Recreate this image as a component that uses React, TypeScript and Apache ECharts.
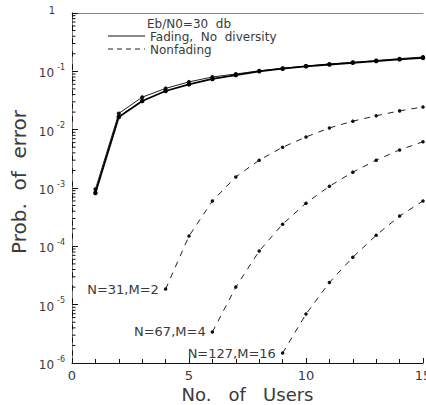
import React, { useEffect, useRef } from "react";
import * as echarts from "echarts";

const users = [1, 2, 3, 4, 5, 6, 7, 8, 9, 10, 11, 12, 13, 14, 15];
const fadingUpper = [9.5e-4, 0.019, 0.036, 0.051, 0.066, 0.08, 0.09, 0.102, 0.113, 0.123, 0.133, 0.143, 0.153, 0.165, 0.176];
const fadingLower = [8.2e-4, 0.0165, 0.031, 0.046, 0.06, 0.074, 0.086, 0.1, 0.111, 0.122, 0.131, 0.14, 0.15, 0.16, 0.17];

const nf31Users = [4, 5, 6, 7, 8, 9, 10, 11, 12, 13, 14, 15];
const nf31 = [1.85e-5, 1.5e-4, 6e-4, 1.55e-3, 3.0e-3, 5.0e-3, 7.5e-3, 1.07e-2, 1.4e-2, 1.73e-2, 2.1e-2, 2.45e-2];
const nf67Users = [6, 7, 8, 9, 10, 11, 12, 13, 14, 15];
const nf67 = [3.4e-6, 2.0e-5, 8.3e-5, 2.4e-4, 5.5e-4, 1.07e-3, 1.87e-3, 3.0e-3, 4.5e-3, 6.2e-3];
const nf127Users = [9, 10, 11, 12, 13, 14, 15];
const nf127 = [1.48e-6, 6.9e-6, 2.4e-5, 6.5e-5, 1.55e-4, 3.3e-4, 6.0e-4];

const curveLabels = ["N=31,M=2", "N=67,M=4", "N=127,M=16"];
const legendTitle = "Eb/N0=30  db";
const legendNames = ["Fading,  No  diversity", "Nonfading"];
const xTitle = "No.   of   Users";
const yTitle = "Prob.  of  error";

const decadeExps = [-6, -5, -4, -3, -2, -1];
const minorMults = [2, 3, 4, 5, 6, 7, 8, 9];

const FONT = "DejaVu Sans";
const TXT = "#3a3a3a";

export default function App() {
  const ref = useRef<HTMLDivElement>(null);
  useEffect(() => {
    document.body.style.margin = "0";
    const chart = echarts.init(ref.current!, null, { renderer: "svg" });

    const minorTicks: number[][] = [];
    decadeExps.forEach((e) => minorMults.forEach((m) => minorTicks.push([0, m * Math.pow(10, e)])));

    const nfSeries = (xs: number[], ys: number[], label: string) => ({
      type: "line",
      name: "Nonfading",
      data: xs.map((x, i) =>
        i === 0
          ? {
              value: [x, ys[i]],
              label: {
                show: true,
                position: "left",
                distance: 5,
                formatter: label,
                fontFamily: FONT,
                fontSize: 13,
                color: TXT,
              },
            }
          : [x, ys[i]]
      ),
      symbol: "circle",
      symbolSize: 3.5,
      itemStyle: { color: "#111" },
      lineStyle: { color: "#222", width: 1, type: [6, 6] },
      z: 3,
    });

    const legendText = (text: string, x: number, y: number) => ({
      type: "text",
      x,
      y,
      style: { text, fontFamily: FONT, fontSize: 12, lineHeight: 12, fill: TXT, verticalAlign: "middle" },
    });

    chart.setOption({
      animation: false,
      backgroundColor: "#fff",
      grid: { left: 72, right: 3, top: 13, bottom: 42, containLabel: false, outerBoundsMode: "none" },
      xAxis: [
        {
          type: "value",
          min: 0,
          max: 15,
          interval: 5,
          axisLine: { lineStyle: { color: "#111", width: 1 } },
          axisTick: { inside: true, length: 5, lineStyle: { color: "#111" } },
          minorTick: { show: true, splitNumber: 5, length: 4, lineStyle: { color: "#111" } },
          splitLine: { show: false },
          axisLabel: { fontFamily: FONT, fontSize: 13, lineHeight: 13, color: TXT, margin: 6 },
          name: xTitle,
          nameLocation: "middle",
          nameGap: 22.5,
          nameMoveOverlap: false,
          nameTextStyle: { fontFamily: FONT, fontSize: 18, lineHeight: 18, color: TXT },
        },
        {
          type: "value",
          position: "top",
          min: 0,
          max: 15,
          axisLine: { show: true, lineStyle: { color: "#888", width: 1 } },
          axisTick: { show: false },
          axisLabel: { show: false },
          splitLine: { show: false },
        },
      ],
      yAxis: [
        {
          type: "log",
          logBase: 10,
          min: 1e-6,
          max: 1,
          axisLine: { show: true, lineStyle: { color: "#111", width: 1 } },
          axisTick: { inside: true, length: 6, lineStyle: { color: "#111" } },
          splitLine: { show: false },
          axisLabel: {
            margin: 7,
            formatter: (v: number) => {
              const e = Math.round(Math.log10(v));
              if (e === 0) return "{one|1}";
              return "{b|10}{s|" + e + "}";
            },
            rich: {
              b: { fontFamily: FONT, fontSize: 12, color: TXT, lineHeight: 16, verticalAlign: "bottom" },
              s: { fontFamily: FONT, fontSize: 8, color: TXT, lineHeight: 16, verticalAlign: "top", padding: [0, 0, 0, 3] },
              one: { fontFamily: FONT, fontSize: 10, color: TXT, padding: [0, 10, 6, 0] },
            },
          },
          name: yTitle,
          nameLocation: "middle",
          nameGap: 43,
          nameMoveOverlap: false,
          nameTextStyle: { fontFamily: FONT, fontSize: 20, color: TXT, padding: [0, 0, 0, 12] },
        },
        {
          type: "log",
          logBase: 10,
          min: 1e-6,
          max: 1,
          position: "right",
          axisLine: { show: true, lineStyle: { color: "#777", width: 1, type: [7, 6] } },
          axisTick: { show: false },
          axisLabel: { show: false },
          splitLine: { show: false },
        },
      ],
      graphic: [
        { type: "line", shape: { x1: 108, y1: 36, x2: 145, y2: 36 }, style: { stroke: "#111", lineWidth: 1 } },
        { type: "line", shape: { x1: 108, y1: 49, x2: 145, y2: 49 }, style: { stroke: "#222", lineWidth: 1, lineDash: [5, 4] } },
        legendText(legendTitle, 147, 24),
        legendText(legendNames[0], 150, 37),
        legendText(legendNames[1], 150, 50),
      ],
      series: [
        {
          type: "custom",
          silent: true,
          data: minorTicks,
          clip: false,
          renderItem: (params: any, api: any) => {
            const p = api.coord([0, api.value(1)]);
            return {
              type: "line",
              shape: { x1: p[0], y1: p[1], x2: p[0] + 3.5, y2: p[1] },
              style: { stroke: "#111", lineWidth: 1 },
            };
          },
          z: 1,
        },
        {
          type: "line",
          name: "Fading upper",
          data: users.map((x, i) => [x, fadingUpper[i]]),
          symbol: "circle",
          symbolSize: 4,
          itemStyle: { color: "#111" },
          lineStyle: { color: "#222", width: 1 },
          z: 4,
        },
        {
          type: "line",
          name: "Fading lower",
          data: users.map((x, i) => [x, fadingLower[i]]),
          symbol: "circle",
          symbolSize: 4.5,
          itemStyle: { color: "#000" },
          lineStyle: { color: "#000", width: 1.8 },
          z: 5,
        },
        nfSeries(nf31Users, nf31, curveLabels[0]),
        nfSeries(nf67Users, nf67, curveLabels[1]),
        nfSeries(nf127Users, nf127, curveLabels[2]),
      ],
    });
    return () => chart.dispose();
  }, []);
  return <div ref={ref} style={{ width: 426, height: 405 }} />;
}
